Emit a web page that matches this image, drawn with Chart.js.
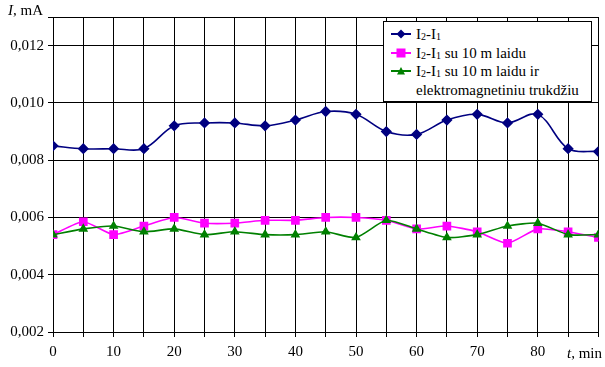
<!DOCTYPE html>
<html>
<head>
<meta charset="utf-8">
<script src="https://cdn.jsdelivr.net/npm/chart.js@4/dist/chart.umd.min.js"></script>
<style>
  html, body { margin:0; padding:0; background:#fff; }
  #wrap { position:relative; width:605px; height:367px; font-family:"Liberation Serif","Times New Roman",serif; }
  canvas { position:absolute; left:0; top:0; }
  .lbl { position:absolute; font-size:15px; color:#000; white-space:nowrap; }
  #legend { position:absolute; left:383px; top:21px; width:209px; height:81px; background:#fff; border:1px solid #000; font-size:15px; line-height:18.7px; padding-top:3px; box-sizing:border-box; }
  #legend .row { position:relative; height:18.7px; padding-left:32px; white-space:nowrap; }
  #legend svg { position:absolute; left:7px; top:3px; }
  sub { font-size:10px; vertical-align:-1px; line-height:0; }
</style>
</head>
<body>
<div id="wrap">
  <canvas id="c" width="605" height="367"></canvas>
  <div class="lbl" style="left:8px;top:2px;"><i>I</i>, mA</div>
  <div class="lbl" style="left:567px;top:345px;"><i>t</i>, min</div>
  <div id="legend">
    <div class="row"><svg width="21" height="12"><line x1="0" y1="6" x2="20" y2="6" stroke="#000080" stroke-width="2"/><polygon points="10,1.5 14.5,6 10,10.5 5.5,6" fill="#000080"/></svg>I<sub>2</sub>-I<sub>1</sub></div>
    <div class="row"><svg width="21" height="12"><line x1="0" y1="6" x2="20" y2="6" stroke="#FF00FF" stroke-width="2"/><rect x="5.5" y="1.5" width="9" height="9" fill="#FF00FF"/></svg>I<sub>2</sub>-I<sub>1</sub> su 10 m laidu</div>
    <div class="row"><svg width="21" height="12"><line x1="0" y1="6" x2="20" y2="6" stroke="#008000" stroke-width="2"/><polygon points="10,2 14,9.5 6,9.5" fill="#008000"/></svg>I<sub>2</sub>-I<sub>1</sub> su 10 m laidu ir</div>
    <div class="row">elektromagnetiniu trukdžiu</div>
  </div>
</div>
<script>
const times = [0,5,10,15,20,25,30,35,40,45,50,55,60,65,70,75,80,85,90];
const seriesBase = [0.0085,0.0084,0.0084,0.0084,0.0092,0.0093,0.0093,0.0092,0.0094,0.0097,0.0096,0.0090,0.0089,0.0094,0.0096,0.0093,0.0096,0.0084,0.0083];
const seriesCable = [0.0054,0.00585,0.0054,0.0057,0.0060,0.0058,0.0058,0.0059,0.0059,0.0060,0.0060,0.0059,0.0056,0.0057,0.0055,0.0051,0.0056,0.0055,0.0053];
const seriesNoise = [0.0054,0.0056,0.0057,0.0055,0.0056,0.0054,0.0055,0.0054,0.0054,0.0055,0.0053,0.0059,0.0056,0.0053,0.0054,0.0057,0.0058,0.0054,0.0054];
const yTickLabels = ['0,002','0,004','0,006','0,008','0,010','0,012'];

const toXY = arr => arr.map((v,i)=>({x:times[i], y:v}));

new Chart(document.getElementById('c'), {
  type: 'line',
  data: {
    datasets: [
      { data: toXY(seriesBase), borderColor:'#000080', backgroundColor:'#000080', borderWidth:1.6, pointStyle:'rectRot', pointRadius:4.5, tension:0.35, order:2 },
      { data: toXY(seriesCable), borderColor:'#FF00FF', backgroundColor:'#FF00FF', borderWidth:1.6, pointStyle:'rect', pointRadius:5, tension:0.2, order:1 },
      { data: toXY(seriesNoise), borderColor:'#008000', backgroundColor:'#008000', borderWidth:1.6, pointStyle:'triangle', pointRadius:4, tension:0.2, order:0 }
    ]
  },
  options: {
    responsive:false, animation:false,
    layout:{ padding:{ top:17, right:5, left:0, bottom:0 } },
    plugins:{ legend:{display:false}, tooltip:{enabled:false} },
    scales:{
      x:{
        type:'linear', min:0, max:90,
        afterFit: s => { s.height = 35; },
        grid:{ color:'#000', lineWidth:1, tickLength:5, drawTicks:true },
        border:{ color:'#000', width:1 },
        ticks:{ stepSize:5, autoSkip:false, maxRotation:0, padding:6, color:'#000',
          font:{ family:'"Liberation Serif","Times New Roman",serif', size:15 },
          callback: v => (v % 10 === 0 && v < 90) ? String(v) : '' }
      },
      y:{
        min:0.002, max:0.013,
        afterFit: s => { s.width = 53; },
        grid:{ color:'#000', lineWidth:1, tickLength:5, drawTicks:true },
        border:{ color:'#000', width:1 },
        ticks:{ stepSize:0.002, padding:4, color:'#000',
          font:{ family:'"Liberation Serif","Times New Roman",serif', size:15 },
          callback: v => { const i = Math.round((v-0.002)/0.002); return Math.abs(v-(0.002+i*0.002))<1e-9 && i < yTickLabels.length ? yTickLabels[i] : ''; } }
      }
    }
  }
});
</script>
</body>
</html>
